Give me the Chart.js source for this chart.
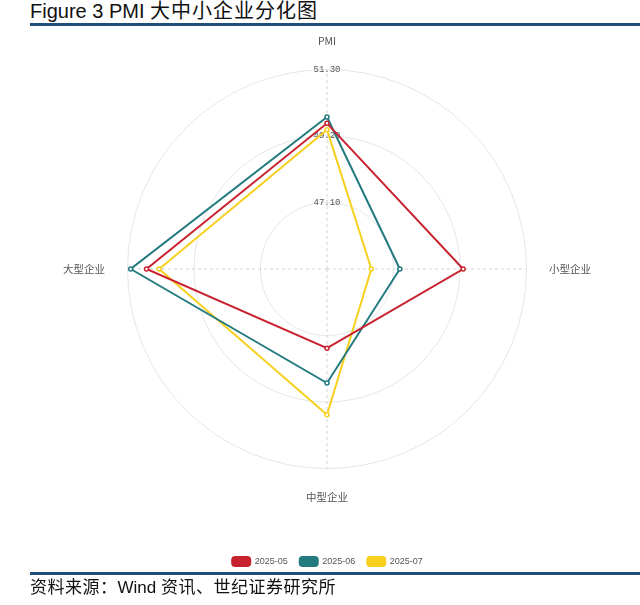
<!DOCTYPE html>
<html>
<head>
<meta charset="utf-8">
<script src="https://cdn.jsdelivr.net/npm/chart.js@4.4.1/dist/chart.umd.min.js"></script>
<style>
  html, body { margin: 0; padding: 0; background: #fff; }
  body { width: 640px; height: 605px; position: relative; overflow: hidden; }
  #title {
    position: absolute; left: 30px; top: 0; white-space: nowrap;
    font-family: "Liberation Sans", Arial, "Noto Sans CJK SC", sans-serif;
    font-size: 20px; line-height: 20px; color: #111;
  }
  #title .cjk { font-family: "Noto Sans CJK SC", sans-serif; letter-spacing: 1px; }
  .rule { position: absolute; left: 30px; width: 610px; height: 3px; background: #1f4e79; }
  #source {
    position: absolute; left: 30px; top: 577px; white-space: nowrap;
    font-family: "Liberation Sans", Arial, "Noto Sans CJK SC", sans-serif;
    font-size: 17px; line-height: 17px; color: #111;
  }
  #source .cjk { font-family: "Noto Sans CJK SC", sans-serif; letter-spacing: 0.5px; }
  #wrap { position: absolute; left: 0; top: -6px; width: 640px; height: 582px; }
</style>
</head>
<body>
<div id="title">Figure 3 PMI <span class="cjk">大中小企业分化图</span></div>
<div class="rule" style="top:23px"></div>
<div id="wrap"><canvas id="chart" width="640" height="582"></canvas></div>
<div class="rule" style="top:572px"></div>
<div id="source"><span class="cjk">资料来源：</span>Wind <span class="cjk">资讯、世纪证券研究所</span></div>
<script>
// Radar axes, clockwise from the top
const axes = ['PMI', '小型企业', '中型企业', '大型企业'];
const months = ['2025-05', '2025-06', '2025-07'];

// PMI readings per axis for each month
const may2025 = [49.6, 49.3, 47.5, 50.7];
const jun2025 = [49.8, 47.3, 48.6, 51.2];
const jul2025 = [49.4, 46.4, 49.6, 50.3];

// Radial scale ring values
const scaleMin = 45.0;
const scaleMax = 51.3;
const scaleStep = 2.1;

const colors = ['#c9222f', '#237a7f', '#f7d01e'];
const series = [may2025, jun2025, jul2025];

const datasets = series.map((values, i) => ({
  label: months[i],
  data: values,
  borderColor: colors[i],
  backgroundColor: colors[i],
  borderWidth: 2,
  fill: false,
  pointRadius: 2,
  pointBorderWidth: 1.5,
  pointBackgroundColor: '#ffffff',
  pointBorderColor: colors[i],
  tension: 0
}));

new Chart(document.getElementById('chart'), {
  type: 'radar',
  data: { labels: axes, datasets },
  options: {
    responsive: false,
    animation: false,
    layout: { padding: { left: 63, right: 48, top: 0, bottom: 0 } },
    plugins: {
      legend: {
        position: 'bottom',
        labels: {
          boxWidth: 18,
          boxHeight: 9,
          padding: 12,
          useBorderRadius: true,
          borderRadius: 3,
          color: '#555',
          font: { family: '"Liberation Sans", Arial, sans-serif', size: 9 }
        }
      },
      tooltip: { enabled: false }
    },
    scales: {
      r: {
        min: scaleMin,
        max: scaleMax,
        ticks: {
          stepSize: scaleStep,
          showLabelBackdrop: false,
          backdropPadding: 0,
          color: '#555',
          font: { family: '"Liberation Mono", "DejaVu Sans Mono", monospace', size: 9 },
          callback: v => v.toFixed(2)
        },
        grid: { circular: true, color: '#e6e6e6', lineWidth: 1 },
        angleLines: { color: '#d4d4d4', lineWidth: 1, borderDash: [3, 3] },
        pointLabels: {
          padding: 18,
          color: '#555',
          font: { family: '"Noto Sans CJK SC", sans-serif', size: 10.5 }
        }
      }
    }
  }
});
</script>
</body>
</html>
